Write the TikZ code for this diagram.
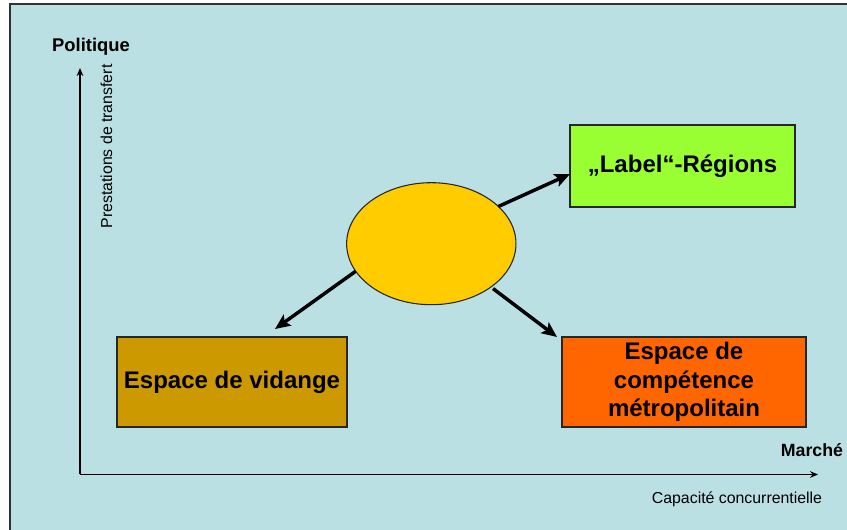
\documentclass[tikz,border=0pt]{standalone}
\usepackage{fontspec}
\setmainfont{Liberation Sans}
\usetikzlibrary{arrows.meta, shapes.geometric}
\definecolor{fond}{HTML}{BBE0E3}
\definecolor{vert}{HTML}{99FF33}
\definecolor{brun}{HTML}{CC9900}
\definecolor{orange}{HTML}{FF6600}
\definecolor{jaune}{HTML}{FFCC00}
\tikzset{
  espace/.style={draw=black!85, line width=0.8pt, inner sep=0pt, outer sep=0pt,
    align=center, font=\fontsize{18}{21.4}\selectfont\bfseries},
  fleche/.style={-{Stealth[length=11.5pt,width=10pt,inset=2.5pt]}, line width=2.6pt},
  axe/.style={-{Stealth[length=6pt,width=5pt]}, line width=0.9pt}
}

\begin{document}
\begin{tikzpicture}[x=0.75pt, y=0.75pt]
\useasboundingbox (0, 0) rectangle (847, 529);
% fond
\filldraw[fill=fond, draw=black!80, line width=1.1pt] (10, -10) rectangle (860, 525);

% axes
\coordinate (o) at (80, 54.5);
\coordinate (ytip) at (80, 461);
\coordinate (xtip) at (818, 54.5);
\draw[axe] (o) -- (ytip);
\draw[axe] (o) -- (xtip);
\node[anchor=base, font=\fontsize{13.8}{16}\selectfont\bfseries] (pol) at (91, 477) {Politique};
\node[anchor=base, rotate=90, font=\fontsize{11.9}{14}\selectfont] (prest) at (112, 382.5) {Prestations de transfert};
\node[anchor=base, font=\fontsize{13.3}{16}\selectfont\bfseries] (mar) at (812, 72) {Marché};
\node[anchor=base, font=\fontsize{11.9}{14}\selectfont] (cap) at (737, 26) {Capacité concurrentielle};

% espaces
\node[ellipse, draw=black!85, line width=0.8pt, fill=jaune, minimum width=127pt, minimum height=91.5pt, inner sep=0pt, outer sep=0pt] (ell) at (431.3, 285.3) {};
\node[espace, fill=vert, minimum width=168.75pt, minimum height=61.5pt] (lab) at (682.5, 363) {„Label“-Régions};
\node[espace, fill=brun, minimum width=172.5pt, minimum height=67.5pt] (vid) at (232, 147) {Espace de vidange};
\node[espace, fill=orange, minimum width=183pt, minimum height=67.5pt] (met) at (684, 147) {Espace de\\compétence\\métropolitain};

% fleches
\draw[fleche] (ell.29) -- ([yshift=-6pt]lab.west);
\draw[fleche] (ell.200) -- ([shift={(43,8)}]vid.north);
\draw[fleche, shorten <=2pt] (ell.324) -- ([xshift=-3.75pt]met.north west);
\end{tikzpicture}
\end{document}
